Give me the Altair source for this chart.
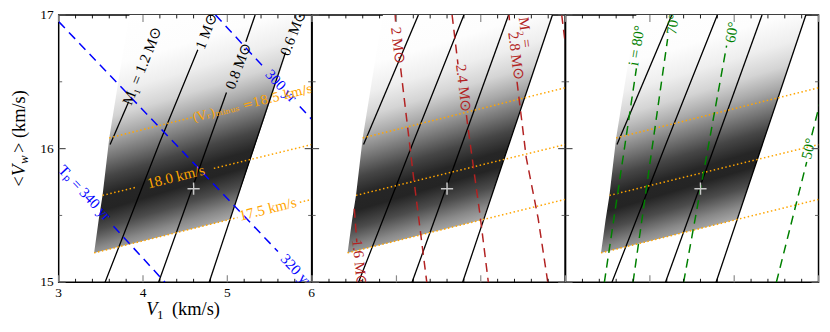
import altair as alt
import pandas as pd

FONT = "Liberation Serif"
W, H = 254.5, 269
X_DOMAIN = [3, 6]
Y_DOMAIN = [15, 17]

# ---------------- data ----------------
# shaded probability region: lower and upper boundary at each V1
SHADE_X = [3.42, 3.475, 3.52, 3.60, 3.75, 3.84, 5.03, 5.13, 5.36, 5.67, 5.85]
SHADE_YLO = [15.22, 15.229, 15.236, 15.248, 15.271, 15.285, 15.47, 15.648, 16.08, 16.66, 17.0]
SHADE_YHI = [15.22, 15.47, 15.65, 16.08, 16.67, 17.0, 17.0, 17.0, 17.0, 17.0, 17.0]
SHADE_OFFSETS = [0.0, 0.22, 0.33, 0.42, 0.50, 0.58, 0.65, 0.72, 0.78, 0.85, 0.92, 1.0]
SHADE_GRAYS = ["#ffffff", "#fdfdfd", "#eeeeee", "#d4d4d4", "#a8a8a8", "#747474",
               "#464646", "#262626", "#242424", "#4c4c4c", "#888888", "#c0c0c0"]

# M1 = const curves (solid black)
M1_FULL = {
    "1.2": [[(3.61, 16.03), (4.26, 17.0)]],
    "1": [[(3.55, 15.0), (4.20, 16.05), (4.80, 17.0)]],
    "0.8": [[(4.185, 15.0), (5.33, 17.0)]],
    "0.6": [[(4.785, 15.0), (5.85, 17.0)]],
}
M1_BROKEN = {
    "1.2": [[(3.61, 16.03), (3.83, 16.35)]],
    "1": [[(3.55, 15.0), (4.20, 16.05), (4.65, 16.74)]],
    "0.8": [[(4.185, 15.0), (4.99, 16.42)], [(5.22, 16.80), (5.33, 17.0)]],
    "0.6": [[(4.785, 15.0), (5.69, 16.72)]],
}
# (V_r)_minus = const lines (orange dotted)
VR_FULL = {
    "17.5": [[(3.42, 15.22), (6.0, 15.62)]],
    "18.0": [[(3.52, 15.65), (6.0, 16.03)]],
    "18.5": [[(3.60, 16.08), (6.0, 16.455)]],
}
VR_BROKEN = {
    "17.5": [[(3.42, 15.22), (5.12, 15.484)], [(5.86, 15.598), (6.0, 15.62)]],
    "18.0": [[(3.52, 15.65), (3.92, 15.711)], [(4.84, 15.852), (6.0, 16.03)]],
    "18.5": [[(3.60, 16.08), (4.58, 16.233)]],
}
# T_p = const lines (blue dashed)
TP_BROKEN = {
    "340": [[(3.65, 15.42), (4.26, 15.0)]],
    "320": [[(3.0, 16.95), (5.60, 15.23)]],
    "300": [[(4.86, 17.0), (5.43, 16.61)], [(5.86, 16.315), (6.0, 16.22)]],
}
# M2 = const lines (red dashed)
M2_BROKEN = {
    "1.6": [[(3.50, 15.55), (3.53, 15.30)]],
    "2": [[(3.985, 17.0), (3.99, 16.95)], [(4.05, 16.6), (4.20, 15.8), (4.36, 15.0)]],
    "2.4": [[(4.66, 17.0), (4.73, 16.63)], [(4.83, 16.25), (4.85, 16.15), (4.99, 15.51), (5.09, 15.0)]],
    "2.8": [[(5.335, 17.0), (5.34, 16.96)], [(5.43, 16.5), (5.54, 15.93), (5.68, 15.48), (5.795, 15.0)]],
    "3.2": [[(5.96, 17.0), (6.05, 16.55)]],
}
# inclination = const lines (green dashed)
INC_BROKEN = {
    "80": [[(3.46, 15.0), (3.84, 16.6)]],
    "70": [[(3.80, 15.0), (4.21, 16.82)]],
    "60": [[(4.40, 15.0), (4.91, 16.77)]],
    "50": [[(5.50, 15.0), (5.86, 15.9)], [(5.92, 16.1), (6.02, 16.35)]],
}

# best-fit marker
BEST_X = [4.6]
BEST_Y = [15.7]

# in-line labels
LABEL_PANEL = [1, 1, 1, 1, 1, 1, 1, 1, 1,
               2, 2, 2, 2, 2,
               3, 3, 3, 3]
LABEL_TEXT = ["M₁ = 1.2 M⊙", "1 M⊙", "0.8 M⊙", "0.6 M⊙",
              "18.0 km/s", "17.5 km/s",
              "Tₚ = 340 yr", "320 yr", "300 yr",
              "2 M⊙", "2.4 M⊙", "M₂ =", "2.8 M⊙", "1.6 M⊙",
              "i = 80°", "70°", "60°", "50°"]
LABEL_X = [3.99, 4.75, 5.13, 5.78, 4.39, 5.48, 3.31, 5.82, 5.64,
           4.02, 4.80, 5.53, 5.42, 3.565,
           3.84, 4.27, 4.97, 5.88]
LABEL_Y = [16.62, 16.88, 16.62, 16.87, 15.79, 15.55, 15.67, 15.09, 16.47,
           16.77, 16.45, 16.87, 16.69, 15.14,
           16.77, 16.93, 16.87, 16.0]
LABEL_ANGLE = [292, 291, 291, 291, 346, 346, 47, 47, 47,
               83, 83, 83, 83, 84,
               279, 279, 280, 284]
LABEL_COLOR = ["black"] * 4 + ["orange"] * 2 + ["blue"] * 3 + ["#b22222"] * 5 + ["green"] * 4
# label of the upper orange line (needs a font with subscript letters)
VRMIN_TEXT = ["(Vᵣ)ₘᵢₙᵤₛ =18.5 km/s"]
VRMIN_X = [5.30]
VRMIN_Y = [16.34]

# ticks and tick labels
X_MAJOR = [3, 4, 5, 6]
X_LABELS = ["3", "4", "5", "6"]
X_MINOR = [3.2, 3.4, 3.6, 3.8, 4.2, 4.4, 4.6, 4.8, 5.2, 5.4, 5.6, 5.8]
Y_MAJOR = [15, 16, 17]
Y_LABELS = ["15", "16", "17"]
Y_MINOR = [15.5, 16.5]

# ---------------- helpers ----------------
XS = alt.Scale(domain=X_DOMAIN, nice=False, zero=False)
YS = alt.Scale(domain=Y_DOMAIN, nice=False, zero=False)


def seg_df(segments):
    rows = []
    for name, segs in segments.items():
        for si, seg in enumerate(segs):
            for pi, (x, y) in enumerate(seg):
                rows.append({"x": x, "y": y, "seg": f"{name}-{si}", "o": pi})
    return pd.DataFrame(rows)


def lines(segments, color, width, dash=None):
    kw = dict(color=color, strokeWidth=width, clip=True)
    if dash:
        kw["strokeDash"] = dash
    return alt.Chart(seg_df(segments)).mark_line(**kw).encode(
        x=alt.X("x:Q", scale=XS, axis=None),
        y=alt.Y("y:Q", scale=YS, axis=None),
        detail="seg:N",
        order="o:Q",
    )


def shade():
    df = pd.DataFrame({"x": SHADE_X, "ylo": SHADE_YLO, "yhi": SHADE_YHI})
    grad = alt.LinearGradient(
        gradient="linear",
        stops=[alt.GradientStop(offset=o, color=c) for o, c in zip(SHADE_OFFSETS, SHADE_GRAYS)],
        x1=0, y1=0, x2=0.26, y2=1,
    )
    return alt.Chart(df).mark_area(color=grad, clip=True).encode(
        x=alt.X("x:Q", scale=XS, axis=None),
        y=alt.Y("ylo:Q", scale=YS, axis=None, stack=None),
        y2="yhi:Q",
    )


def ticks():
    out = []
    for vals, length, color, width in [(X_MAJOR, 7, "#8a8a8a", 1.2), (X_MINOR, 3.5, "black", 0.9)]:
        base = alt.Chart(pd.DataFrame({"v": vals})).mark_rule(color=color, strokeWidth=width)
        xe = alt.X("v:Q", scale=XS, axis=None)
        out.append(base.encode(x=xe, y=alt.value(H), y2=alt.value(H - length)))
        out.append(base.encode(x=xe, y=alt.value(0), y2=alt.value(length)))
    for vals, length, color, width in [(Y_MAJOR, 7, "#555555", 1.2), (Y_MINOR, 3.5, "#555555", 0.9)]:
        base = alt.Chart(pd.DataFrame({"v": vals})).mark_rule(color=color, strokeWidth=width)
        ye = alt.Y("v:Q", scale=YS, axis=None)
        out.append(base.encode(y=ye, x=alt.value(0), x2=alt.value(length)))
        out.append(base.encode(y=ye, x=alt.value(W), x2=alt.value(W - length)))
    return out


def tick_labels():
    xl = alt.Chart(pd.DataFrame({"v": X_MAJOR, "t": X_LABELS})).mark_text(
        font=FONT, fontSize=13.5, align="center", baseline="top", color="black"
    ).encode(x=alt.X("v:Q", scale=XS, axis=None), y=alt.value(H + 4), text="t:N")
    yl = alt.Chart(pd.DataFrame({"v": Y_MAJOR, "t": Y_LABELS})).mark_text(
        font=FONT, fontSize=13.5, align="right", baseline="middle", color="black"
    ).encode(y=alt.Y("v:Q", scale=YS, axis=None), x=alt.value(-5), text="t:N")
    return [xl, yl]


def labels(k):
    df = pd.DataFrame({"t": LABEL_TEXT, "x": LABEL_X, "y": LABEL_Y, "a": LABEL_ANGLE,
                       "c": LABEL_COLOR, "p": LABEL_PANEL})
    df = df[df.p == k]
    return alt.Chart(df).mark_text(font=FONT, fontSize=15, align="center", baseline="middle",
                                   clip=True).encode(
        x=alt.X("x:Q", scale=XS, axis=None),
        y=alt.Y("y:Q", scale=YS, axis=None),
        text="t:N",
        angle=alt.Angle("a:Q", scale=None),
        color=alt.Color("c:N", scale=None),
    )


def vrmin_label():
    df = pd.DataFrame({"t": VRMIN_TEXT, "x": VRMIN_X, "y": VRMIN_Y})
    return alt.Chart(df).mark_text(font="DejaVu Serif", fontSize=12.5, align="center",
                                   baseline="middle", angle=346, color="orange",
                                   clip=True).encode(
        x=alt.X("x:Q", scale=XS, axis=None),
        y=alt.Y("y:Q", scale=YS, axis=None),
        text="t:N",
    )


def best():
    return alt.Chart(pd.DataFrame({"x": BEST_X, "y": BEST_Y})).mark_point(
        shape="M-1,0L1,0M0,-1L0,1", size=150, filled=False, color="#c8c8c8",
        strokeWidth=1.5, opacity=1,
    ).encode(x=alt.X("x:Q", scale=XS, axis=None), y=alt.Y("y:Q", scale=YS, axis=None))


def txt(s, x, y, size=18.5, style="normal", angle=0, align="left", baseline="middle"):
    return alt.Chart(pd.DataFrame({"t": [s]})).mark_text(
        font=FONT, fontSize=size, fontStyle=style, angle=angle, align=align,
        baseline=baseline, color="black",
    ).encode(text="t:N", x=alt.value(x), y=alt.value(y))


DASH = [9, 6]
DOT = [1.5, 2.5]

p1 = alt.layer(
    shade(),
    lines(M1_BROKEN, "black", 1.3),
    lines(VR_BROKEN, "orange", 1.5, DOT),
    lines(TP_BROKEN, "blue", 1.5, DASH),
    labels(1),
    vrmin_label(),
    best(),
    *ticks(),
    *tick_labels(),
    # y-axis title  <V_w > (km/s)
    txt("<", -40, 173, angle=270),
    txt("V", -40, 162, style="italic", angle=270),
    txt("w", -35, 150, size=13, style="italic", angle=270),
    txt("> (km/s)", -40, 139, angle=270),
    # x-axis title  V_1 (km/s)
    txt("V", 88, 302, style="italic", baseline="alphabetic"),
    txt("1", 99, 306, size=13, baseline="alphabetic"),
    txt("(km/s)", 114, 302, baseline="alphabetic"),
).properties(width=W, height=H)

p2 = alt.layer(
    shade(),
    lines(M1_FULL, "black", 1.3),
    lines(VR_FULL, "orange", 1.5, DOT),
    lines(M2_BROKEN, "#b22222", 1.5, DASH),
    labels(2),
    best(),
    *ticks(),
).properties(width=W, height=H)

p3 = alt.layer(
    shade(),
    lines(M1_FULL, "black", 1.3),
    lines(VR_FULL, "orange", 1.5, DOT),
    lines(INC_BROKEN, "green", 1.5, DASH),
    labels(3),
    best(),
    *ticks(),
).properties(width=W, height=H)

chart = alt.hconcat(p1, p2, p3, spacing=0, bounds="flush").properties(
    padding={"left": 1, "top": -2, "right": 2, "bottom": 0}
).configure_view(stroke="black", strokeWidth=1.5)

chart.save("out.html", embed_options={"renderer": "svg", "actions": False})
